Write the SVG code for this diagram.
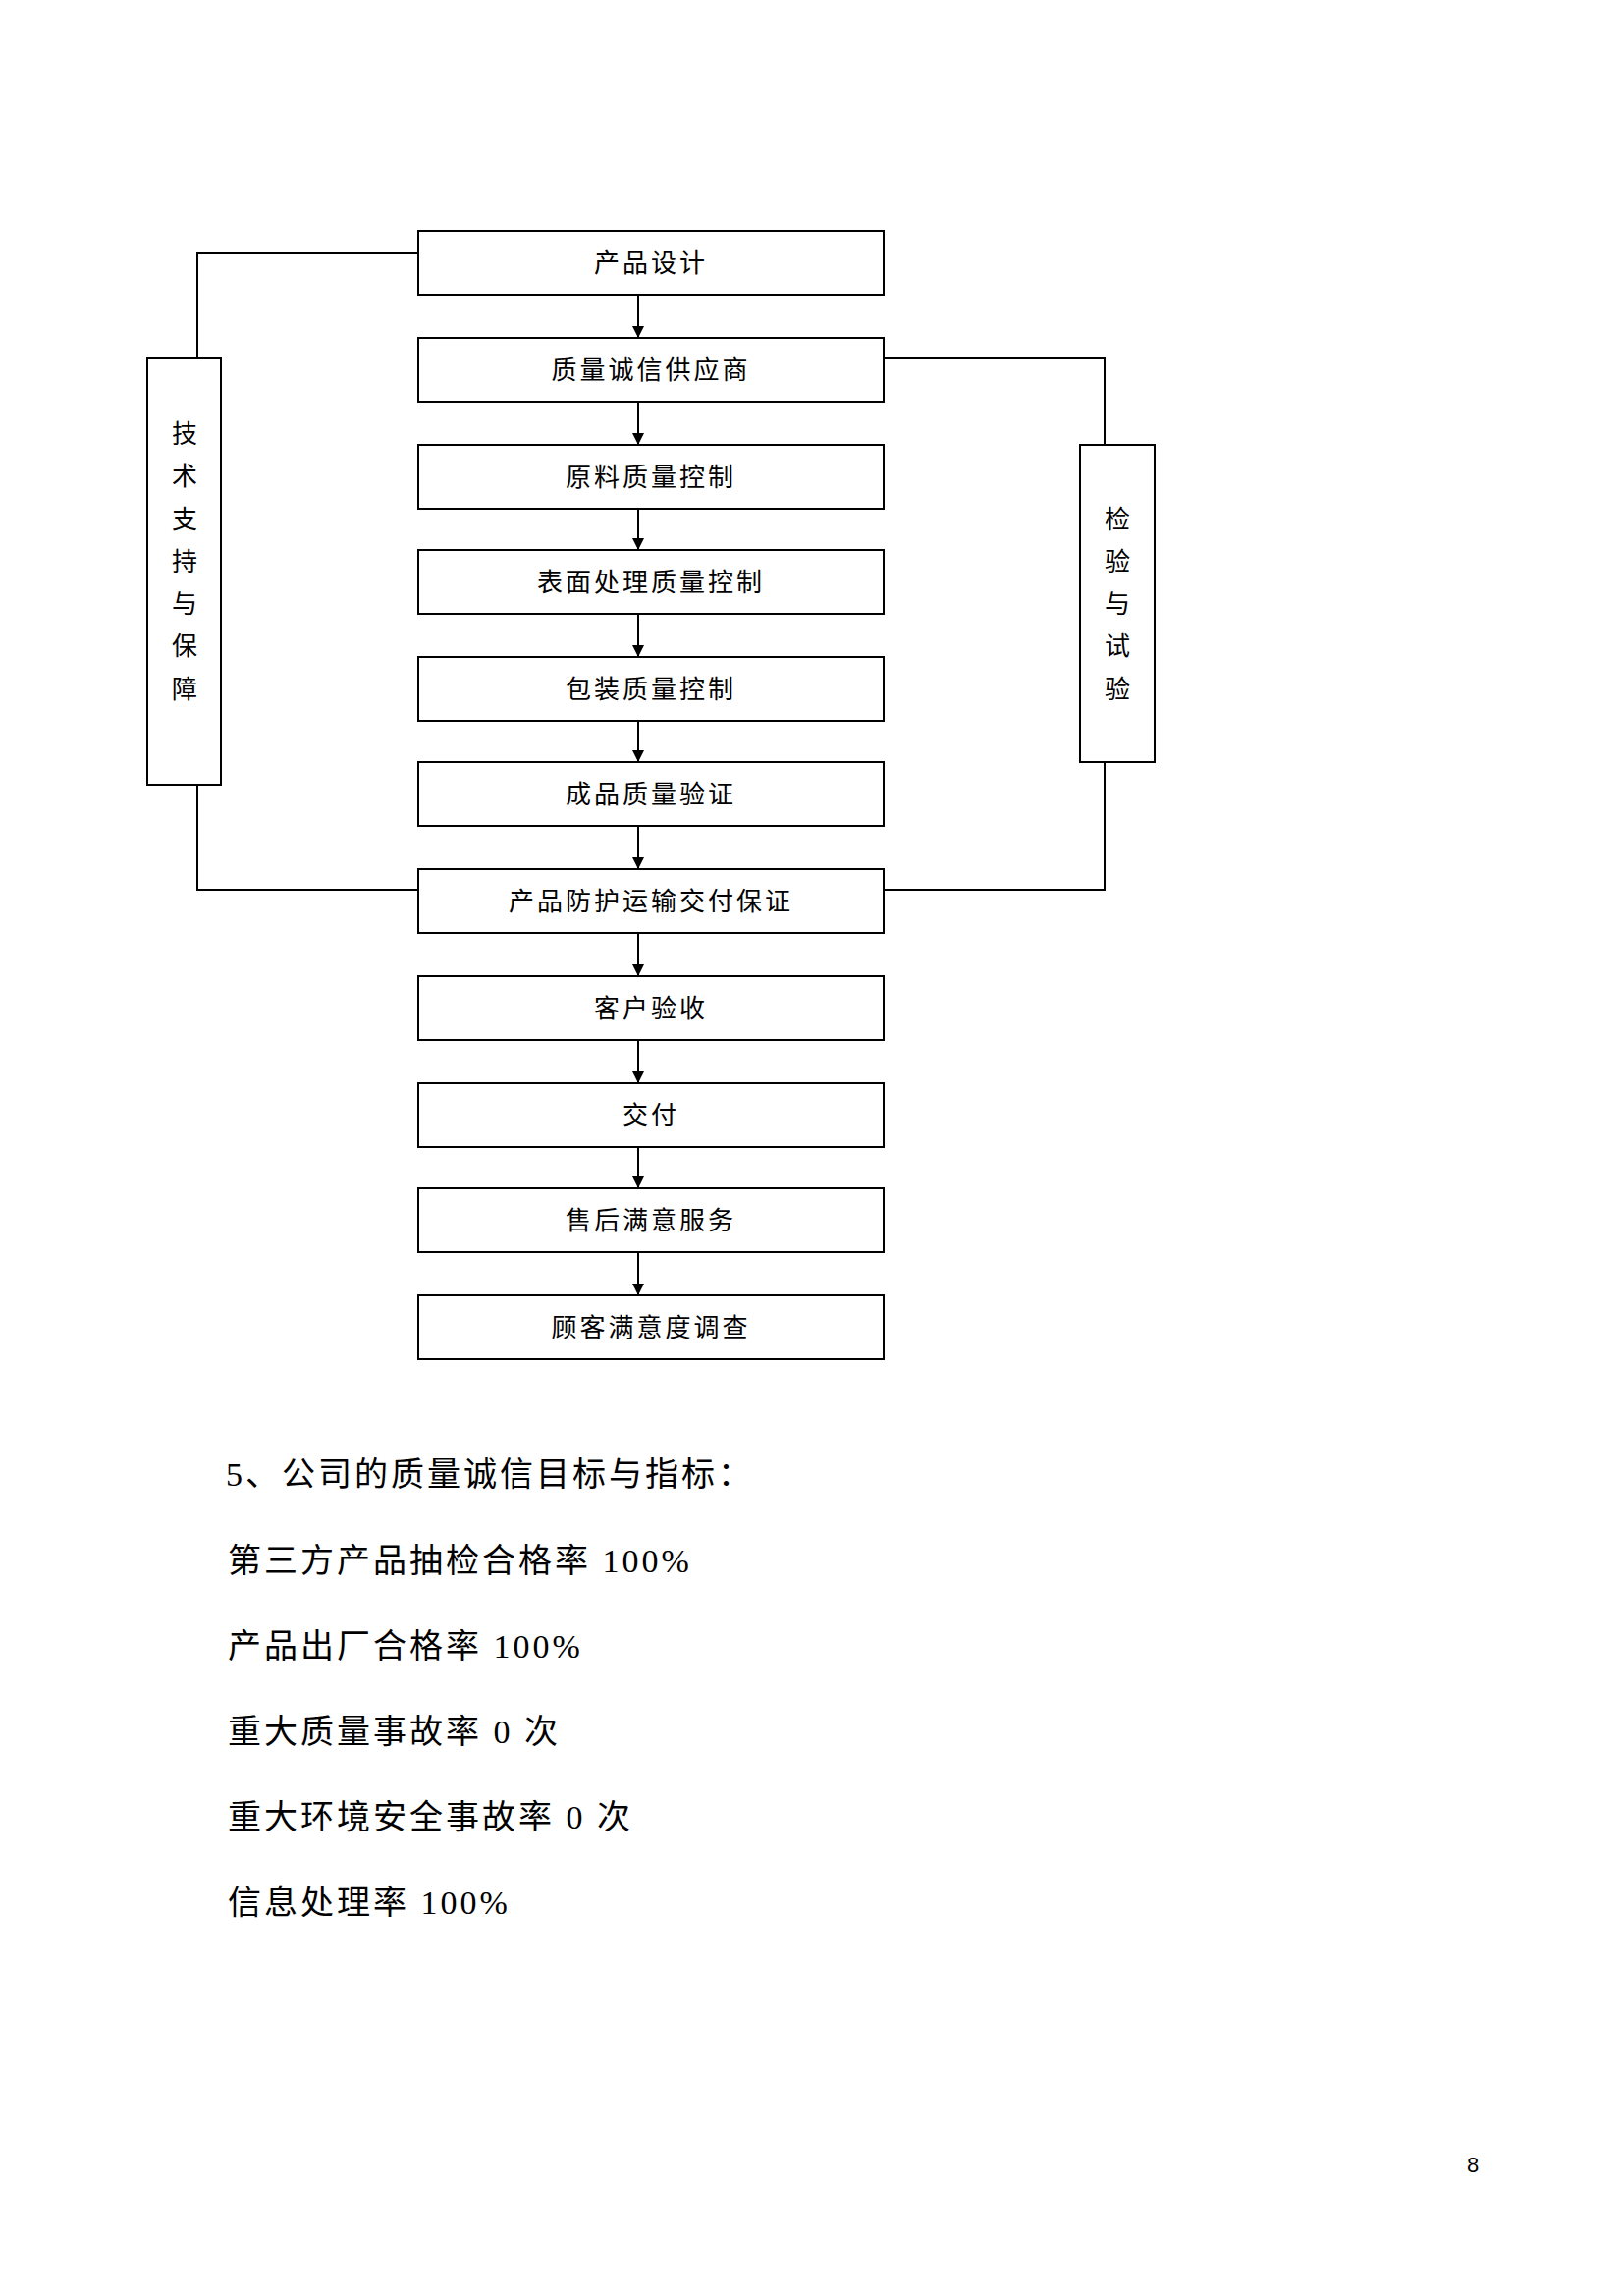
<svg xmlns="http://www.w3.org/2000/svg" width="1653" height="2338" viewBox="0 0 1653 2338">
<style>
.b{fill:#fff;stroke:#000;stroke-width:2}
.t{font-family:"Noto Sans CJK SC",sans-serif;font-size:26px;letter-spacing:3px;text-anchor:middle;fill:#000}
.v{font-family:"Noto Sans CJK SC",sans-serif;font-size:26px;text-anchor:middle;fill:#000}
.p{font-family:"Liberation Serif","Noto Sans CJK SC",serif;font-size:34px;letter-spacing:3px;fill:#000}
.c{fill:none;stroke:#000;stroke-width:2}
</style>
<defs><marker id="a" markerWidth="12" markerHeight="12" refX="11" refY="6" orient="auto" markerUnits="userSpaceOnUse"><path d="M0,0 L12,6 L0,12 Z" fill="#000"/></marker></defs>
<g id="connectors">
<line class="c" x1="650" y1="300" x2="650" y2="343" marker-end="url(#a)"/>
<line class="c" x1="650" y1="409" x2="650" y2="452" marker-end="url(#a)"/>
<line class="c" x1="650" y1="518" x2="650" y2="559" marker-end="url(#a)"/>
<line class="c" x1="650" y1="625" x2="650" y2="668" marker-end="url(#a)"/>
<line class="c" x1="650" y1="734" x2="650" y2="775" marker-end="url(#a)"/>
<line class="c" x1="650" y1="841" x2="650" y2="884" marker-end="url(#a)"/>
<line class="c" x1="650" y1="950" x2="650" y2="993" marker-end="url(#a)"/>
<line class="c" x1="650" y1="1059" x2="650" y2="1102" marker-end="url(#a)"/>
<line class="c" x1="650" y1="1168" x2="650" y2="1209" marker-end="url(#a)"/>
<line class="c" x1="650" y1="1275" x2="650" y2="1318" marker-end="url(#a)"/>
<path class="c" d="M426 258H201V365M201 799V906H426M900 365H1125V453M1125 776V906H900"/>
</g>
<g id="n1"><rect class="b" x="426" y="235" width="474" height="65"/><text class="t" x="663" y="277">产品设计</text></g>
<g id="n2"><rect class="b" x="426" y="344" width="474" height="65"/><text class="t" x="663" y="386">质量诚信供应商</text></g>
<g id="n3"><rect class="b" x="426" y="453" width="474" height="65"/><text class="t" x="663" y="495">原料质量控制</text></g>
<g id="n4"><rect class="b" x="426" y="560" width="474" height="65"/><text class="t" x="663" y="602">表面处理质量控制</text></g>
<g id="n5"><rect class="b" x="426" y="669" width="474" height="65"/><text class="t" x="663" y="711">包装质量控制</text></g>
<g id="n6"><rect class="b" x="426" y="776" width="474" height="65"/><text class="t" x="663" y="818">成品质量验证</text></g>
<g id="n7"><rect class="b" x="426" y="885" width="474" height="65"/><text class="t" x="663" y="927">产品防护运输交付保证</text></g>
<g id="n8"><rect class="b" x="426" y="994" width="474" height="65"/><text class="t" x="663" y="1036">客户验收</text></g>
<g id="n9"><rect class="b" x="426" y="1103" width="474" height="65"/><text class="t" x="663" y="1145">交付</text></g>
<g id="n10"><rect class="b" x="426" y="1210" width="474" height="65"/><text class="t" x="663" y="1252">售后满意服务</text></g>
<g id="n11"><rect class="b" x="426" y="1319" width="474" height="65"/><text class="t" x="663" y="1361">顾客满意度调查</text></g>
<g id="left"><rect class="b" x="150" y="365" width="75" height="434"/>
<text class="v" x="188" y="451">技</text><text class="v" x="188" y="494">术</text><text class="v" x="188" y="538">支</text><text class="v" x="188" y="581">持</text><text class="v" x="188" y="624">与</text><text class="v" x="188" y="667">保</text><text class="v" x="188" y="711">障</text></g>
<g id="right"><rect class="b" x="1100" y="453" width="76" height="323"/>
<text class="v" x="1138" y="538">检</text><text class="v" x="1138" y="581">验</text><text class="v" x="1138" y="624">与</text><text class="v" x="1138" y="667">试</text><text class="v" x="1138" y="711">验</text></g>
<text class="p" x="230" y="1513">5、公司的质量诚信目标与指标：</text>
<text class="p" x="232" y="1601">第三方产品抽检合格率 100%</text>
<text class="p" x="232" y="1688">产品出厂合格率 100%</text>
<text class="p" x="232" y="1775">重大质量事故率 0 次</text>
<text class="p" x="232" y="1862">重大环境安全事故率 0 次</text>
<text class="p" x="232" y="1949">信息处理率 100%</text>
<text x="1500" y="2212" font-family="Liberation Sans,sans-serif" font-size="22" text-anchor="middle">8</text>
</svg>
